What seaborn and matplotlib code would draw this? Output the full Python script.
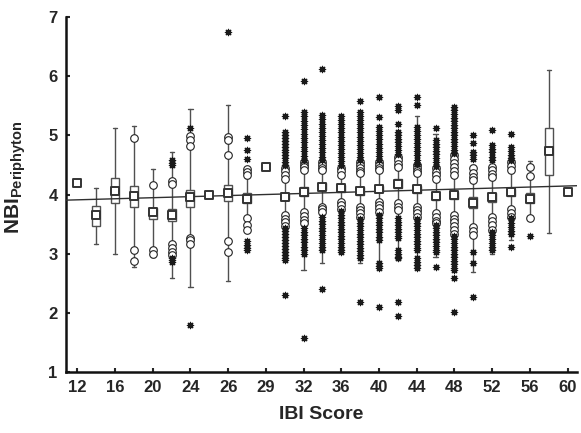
import matplotlib
matplotlib.use("Agg")
import matplotlib.pyplot as plt
import seaborn as sns
import pandas as pd

# IBI score classes (one box per class)
ibi_scores = [12, 14, 16, 18, 20, 22, 24, 25, 26, 28, 29, 30, 32, 34, 36,
              38, 40, 42, 44, 46, 48, 50, 52, 54, 56, 58, 60]

# Median NBI per class
medians = [4.19, 3.65, 4.06, 3.98, 3.70, 3.66, 3.95, 4.00, 4.02, 3.93, 4.46,
           3.96, 4.05, 4.13, 4.11, 4.06, 4.10, 4.18, 4.09, 3.97, 3.99, 3.86,
           3.95, 4.04, 3.93, 4.73, 4.05]

# Quartiles and non-outlier range (None = single observation)
q1 = [None, 3.47, 3.85, 3.79, 3.58, 3.55, 3.79, None, 3.89, 3.85, None,
      3.90, 3.97, 4.07, 4.05, 4.00, 4.04, 4.11, 4.03, 3.91, 3.93, 3.77,
      3.88, 3.98, 3.86, 4.33, None]
q3 = [None, 3.81, 4.28, 4.15, 3.78, 3.76, 4.08, None, 4.16, 4.02, None,
      4.02, 4.13, 4.19, 4.16, 4.12, 4.15, 4.26, 4.14, 4.03, 4.05, 3.95,
      4.02, 4.10, 4.02, 5.12, None]
whisker_lo = [None, 3.16, 2.99, 2.78, 2.94, 2.59, 2.43, None, 2.54, 3.62, None,
              3.62, 2.72, 2.85, 3.78, 2.84, 2.75, 2.89, 2.92, 2.95, 2.72, 2.69,
              3.00, 3.23, 3.62, 3.35, None]
whisker_hi = [None, 4.11, 5.13, 5.16, 4.43, 4.71, 5.45, None, 5.51, 4.28, None,
              4.30, 4.55, 4.55, 4.40, 4.50, 4.50, 4.60, 5.33, 5.03, 4.53, 4.50,
              4.45, 4.50, 4.57, 6.10, None]

# Outliers (circles) per class
outliers = {
    18: [4.96, 3.06, 2.88],
    20: [4.16, 3.07, 3.00],
    22: [4.23, 4.17, 3.16, 3.09, 3.03, 2.97],
    24: [4.99, 4.92, 4.82, 3.27, 3.23, 3.16],
    26: [4.97, 4.92, 4.67, 3.21, 3.02],
    28: [4.43, 4.38, 4.33, 3.60, 3.48, 3.40],
    30: [4.44, 4.39, 4.33, 4.27, 3.65, 3.59, 3.53, 3.47],
    32: [4.55, 4.50, 4.46, 4.41, 3.71, 3.64, 3.57, 3.51],
    34: [4.55, 4.50, 4.45, 4.41, 3.79, 3.75, 3.71],
    36: [4.44, 4.39, 4.33, 3.88, 3.82, 3.76],
    38: [4.55, 4.50, 4.45, 4.40, 4.36, 3.79, 3.74, 3.68, 3.62],
    40: [4.55, 4.50, 4.45, 4.41, 3.88, 3.83, 3.77, 3.71],
    42: [4.64, 4.58, 4.52, 4.47, 3.85, 3.79, 3.74],
    44: [4.50, 4.45, 4.40, 4.36, 3.79, 3.74, 3.68, 3.62],
    46: [4.44, 4.38, 4.33, 4.27, 3.68, 3.62, 3.56, 3.51],
    48: [4.67, 4.60, 4.53, 4.46, 4.40, 4.33, 3.65, 3.59, 3.53, 3.47, 3.40, 3.34],
    50: [4.44, 4.37, 4.30, 4.24, 3.45, 3.38, 3.31],
    52: [4.47, 4.41, 4.35, 4.30, 3.62, 3.55, 3.48, 3.40],
    54: [4.55, 4.48, 4.41, 3.76, 3.69, 3.62],
    56: [4.47, 4.32, 3.60],
}

# Extreme values (asterisks) per class
extremes = {
    22: [4.58, 4.54, 4.50, 2.93, 2.89, 2.86],
    24: [5.12, 1.79],
    26: [6.74],
    28: [4.96, 4.75, 4.60, 3.21, 3.15, 3.10, 3.06],
    30: [5.33, 5.06, 5.01, 4.96, 4.91, 4.86, 4.81, 4.76, 4.71, 4.66, 4.61,
         4.55, 4.50, 3.43, 3.38, 3.33, 3.28, 3.23, 3.18, 3.13, 3.08, 3.03,
         2.98, 2.93, 2.89, 2.30],
    32: [5.92, 5.39, 5.33, 5.25, 5.18, 5.10, 5.03, 4.96, 4.88, 4.80, 4.73,
         4.65, 4.58, 3.43, 3.37, 3.31, 3.25, 3.19, 3.12, 3.06, 3.00, 1.57],
    34: [6.12, 5.34, 5.27, 5.20, 5.13, 5.06, 4.99, 4.92, 4.85, 4.78, 4.71,
         4.64, 4.58, 3.62, 3.56, 3.50, 3.44, 3.38, 3.31, 3.25, 3.18, 3.12,
         3.06, 2.40],
    36: [5.33, 5.26, 5.19, 5.12, 5.05, 4.98, 4.91, 4.84, 4.77, 4.70, 4.63,
         4.56, 4.50, 3.72, 3.66, 3.60, 3.54, 3.48, 3.42, 3.36, 3.30, 3.24,
         3.18, 3.12, 3.06, 3.03],
    38: [5.58, 5.40, 5.33, 5.26, 5.19, 5.12, 5.05, 4.98, 4.91, 4.84, 4.77,
         4.70, 4.63, 4.58, 3.58, 3.52, 3.46, 3.40, 3.34, 3.28, 3.22, 3.16,
         3.10, 3.04, 2.98, 2.92, 2.18],
    40: [5.65, 5.31, 5.14, 5.07, 5.00, 4.93, 4.86, 4.79, 4.72, 4.65, 4.58,
         3.66, 3.60, 3.54, 3.48, 3.42, 3.36, 3.29, 3.23, 2.84, 2.79, 2.75,
         2.10],
    42: [5.49, 5.43, 5.20, 5.06, 5.00, 4.94, 4.88, 4.82, 4.76, 4.69, 3.60,
         3.54, 3.48, 3.42, 3.36, 3.30, 3.26, 3.06, 3.00, 2.95, 2.92, 2.18,
         1.95],
    44: [5.65, 5.51, 5.14, 5.08, 5.01, 4.94, 4.87, 4.80, 4.73, 4.66, 4.59,
         4.52, 3.58, 3.52, 3.46, 3.40, 3.34, 3.28, 3.22, 3.16, 3.10, 3.06,
         2.92, 2.86, 2.80, 2.75],
    46: [5.12, 4.92, 4.86, 4.80, 4.74, 4.68, 4.62, 4.55, 4.49, 3.49, 3.43,
         3.37, 3.31, 3.25, 3.19, 3.13, 3.07, 3.03, 2.78],
    48: [5.48, 5.42, 5.36, 5.30, 5.24, 5.18, 5.12, 5.06, 5.00, 4.94, 4.88,
         4.82, 4.76, 4.70, 3.30, 3.24, 3.18, 3.12, 3.06, 3.00, 2.94, 2.88,
         2.82, 2.76, 2.72, 2.59, 2.01],
    50: [5.00, 4.87, 4.72, 4.66, 4.60, 3.03, 2.84, 2.27],
    52: [5.09, 4.83, 4.77, 4.71, 4.64, 4.58, 3.37, 3.31, 3.25, 3.18, 3.12, 3.06],
    54: [5.02, 4.80, 4.73, 4.67, 4.62, 4.58, 3.60, 3.52, 3.45, 3.38, 3.34, 3.11],
    56: [3.30],
}

# Linear trend of NBI over the class positions
trend_intercept = 3.91
trend_slope = 0.009

tick_scores = [12, 16, 20, 24, 26, 29, 32, 36, 40, 44, 48, 52, 56, 60]

sns.set_style("ticks")
plt.rcParams["font.family"] = ["Liberation Sans", "DejaVu Sans"]
plt.rcParams["font.weight"] = "bold"
plt.rcParams["mathtext.fontset"] = "custom"
plt.rcParams["mathtext.rm"] = "Liberation Sans"
plt.rcParams["mathtext.bf"] = "Liberation Sans:bold"

fig = plt.figure(figsize=(5.81, 4.33), dpi=100)
ax = fig.add_axes([0.1136, 0.1409, 0.8794, 0.8198])

pos = {s: i for i, s in enumerate(ibi_scores)}
line_col = "#505050"

# Boxes with whiskers for classes that have more than one observation
stats, box_pos = [], []
for i, s in enumerate(ibi_scores):
    if q1[i] is None:
        continue
    stats.append(dict(med=medians[i], q1=q1[i], q3=q3[i],
                      whislo=whisker_lo[i], whishi=whisker_hi[i], fliers=[]))
    box_pos.append(i)
ax.bxp(stats, positions=box_pos, widths=0.42, capwidths=0.22,
       patch_artist=True, showfliers=False,
       boxprops=dict(facecolor="white", edgecolor=line_col, linewidth=1.0),
       whiskerprops=dict(color=line_col, linewidth=1.0),
       capprops=dict(color=line_col, linewidth=1.0),
       medianprops=dict(linewidth=0), manage_ticks=False, zorder=2)

# Trend line
trend = pd.DataFrame({"x": [-0.6, 26.5]})
trend["y"] = trend_intercept + trend_slope * trend["x"]
sns.lineplot(data=trend, x="x", y="y", color="#303030", linewidth=1.0,
             ax=ax, zorder=3)

# Outliers and extremes
out_df = pd.DataFrame([(pos[s], v) for s, vals in outliers.items() for v in vals],
                      columns=["x", "y"])
ext_df = pd.DataFrame([(pos[s], v) for s, vals in extremes.items() for v in vals],
                      columns=["x", "y"])
sns.scatterplot(data=out_df, x="x", y="y", marker="o", s=30,
                facecolor="white", edgecolor="#222222", linewidth=0.8,
                ax=ax, zorder=4)
sns.scatterplot(data=ext_df, x="x", y="y", marker=(8, 2, 0), s=20,
                color="#1a1a1a", edgecolor="#1a1a1a", linewidth=0.9,
                ax=ax, zorder=5)

# Medians as squares
med_df = pd.DataFrame({"x": list(range(len(ibi_scores))), "y": medians})
sns.scatterplot(data=med_df, x="x", y="y", marker="s", s=38,
                facecolor="white", edgecolor="#333333", linewidth=1.4,
                ax=ax, zorder=6)

ax.set_xlim(-0.6, 26.5)
ax.set_ylim(1, 7)
ax.set_xticks([pos[s] for s in tick_scores])
ax.set_xticklabels([str(s) for s in tick_scores])
ax.set_yticks([1, 2, 3, 4, 5, 6, 7])
ax.tick_params(direction="in", length=3, width=1.5, labelsize=12, pad=6)
for lab in ax.get_xticklabels() + ax.get_yticklabels():
    lab.set_fontweight("bold")
sns.despine(ax=ax)
for sp in ["left", "bottom"]:
    ax.spines[sp].set_linewidth(1.8)
    ax.spines[sp].set_color("#111111")

ax.set_xlabel("IBI Score", fontsize=14, fontweight="bold", labelpad=8)
ax.set_ylabel(r"$\mathbf{NBI}_{\mathbf{Periphyton}}$", fontsize=15)
ax.yaxis.set_label_coords(-0.075, 0.55)

fig.savefig("out.png", dpi=100)
